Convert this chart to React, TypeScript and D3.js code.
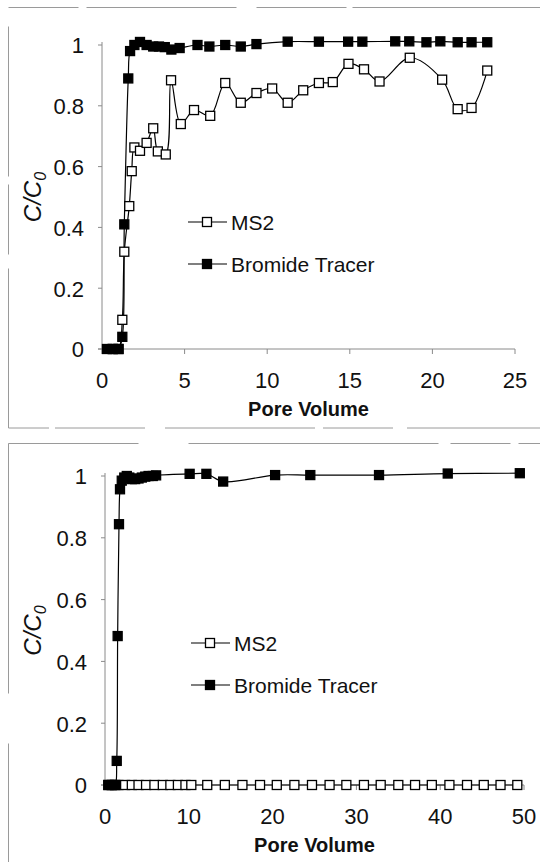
import React from 'react';
import * as d3 from 'd3';

// ---- top panel: pore volume vs C/C0 ----
const topBromidePV = [0.3, 0.65, 1.0, 1.23, 1.35, 1.59, 1.7, 1.96, 2.3, 2.7, 3.1, 3.45, 3.8, 4.2, 4.7, 5.78, 6.5, 7.46, 8.4, 9.35, 11.24, 13.13, 14.9, 15.76, 17.75, 18.6, 19.64, 20.48, 21.53, 22.37, 23.32];
const topBromideC = [0, 0, 0, 0.04, 0.41, 0.89, 0.98, 1.0, 1.01, 1.0, 0.995, 0.995, 0.993, 0.985, 0.99, 1.0, 0.995, 1.0, 0.995, 1.003, 1.011, 1.011, 1.011, 1.011, 1.012, 1.012, 1.009, 1.012, 1.009, 1.009, 1.009];
const topMs2PV = [0.65, 1.0, 1.23, 1.35, 1.65, 1.8, 1.96, 2.3, 2.7, 3.1, 3.38, 3.86, 4.18, 4.77, 5.57, 6.55, 7.46, 8.4, 9.35, 10.3, 11.24, 12.18, 13.13, 13.97, 14.92, 15.86, 16.8, 18.63, 20.59, 21.53, 22.37, 23.32];
const topMs2C = [0, 0, 0.096, 0.32, 0.47, 0.585, 0.663, 0.652, 0.678, 0.726, 0.65, 0.64, 0.884, 0.74, 0.786, 0.767, 0.875, 0.81, 0.842, 0.857, 0.81, 0.851, 0.875, 0.878, 0.938, 0.92, 0.88, 0.958, 0.886, 0.789, 0.793, 0.916];
const topXTicks = [0, 5, 10, 15, 20, 25];

// ---- bottom panel ----
const botBromidePV = [0.4, 0.8, 1.2, 1.4, 1.51, 1.67, 1.79, 2.0, 2.3, 2.6, 2.9, 3.2, 3.6, 4.0, 4.4, 4.8, 5.2, 5.7, 6.1, 10.1, 12.1, 14.1, 20.3, 24.5, 32.7, 40.9, 49.5];
const botBromideC = [0, 0, 0, 0.078, 0.482, 0.844, 0.957, 0.985, 0.995, 1.0, 0.995, 0.99, 0.99, 0.992, 0.995, 0.998, 1.0, 1.0, 1.002, 1.007, 1.007, 0.982, 1.003, 1.003, 1.003, 1.008, 1.009];
const botMs2PV = [0.4, 0.8, 1.2, 1.6, 2.4, 3.2, 4.0, 4.9, 5.9, 6.9, 7.8, 8.7, 9.6, 10.3, 12.2, 14.3, 16.4, 18.5, 20.5, 22.6, 24.7, 26.8, 28.8, 30.9, 32.9, 35.0, 37.0, 39.0, 41.1, 43.2, 45.2, 47.2, 49.2];
const botMs2C = botMs2PV.map(() => 0);
const botXTicks = [0, 10, 20, 30, 40, 50];

const yTicks = [0, 0.2, 0.4, 0.6, 0.8, 1];
const yTickLabels = ['0', '0.2', '0.4', '0.6', '0.8', '1'];

const FONT = 'Arial, "Liberation Sans", Helvetica, sans-serif';
const MARK = 9;

type PanelProps = {
  xMax: number;
  xTicks: number[];
  xRange: [number, number];
  yRange: [number, number];
  ms2: [number[], number[]];
  bromide: [number[], number[]];
  legend: { x: number; y: number };
};

const Marker = ({ x, y, filled }: { x: number; y: number; filled: boolean }) => (
  <rect x={x - MARK / 2} y={y - MARK / 2} width={MARK} height={MARK}
    fill={filled ? '#000' : '#fff'} stroke="#000" strokeWidth={1.3} />
);

function Panel({ xMax, xTicks, xRange, yRange, ms2, bromide, legend }: PanelProps) {
  const x = d3.scaleLinear().domain([0, xMax]).range(xRange);
  const y = d3.scaleLinear().domain([0, 1]).range(yRange);
  const line = d3.line<[number, number]>()
    .x(d => x(d[0]))
    .y(d => y(d[1]))
    .curve(d3.curveCatmullRom.alpha(0.5));

  const ms2Pts = ms2[0].map((v, i) => [v, ms2[1][i]] as [number, number]);
  const brPts = bromide[0].map((v, i) => [v, bromide[1][i]] as [number, number]);
  const y0 = y(0);
  const x0 = x(0);

  return (
    <g>
      {/* axes */}
      <line x1={x0} x2={x0} y1={y(1) - 3} y2={y0} stroke="#8a8a8a" strokeWidth={1} />
      <line x1={x0 - 4} x2={x(xMax)} y1={y0} y2={y0} stroke="#8a8a8a" strokeWidth={1} />
      {yTicks.map((t, i) => (
        <g key={'y' + t}>
          <line x1={x0 - 4} x2={x0} y1={y(t)} y2={y(t)} stroke="#8a8a8a" />
          <text x={x0 - 18} y={y(t)} dy="0.38em" textAnchor="end" fontSize={22} fontFamily={FONT} fill="#111">
            {yTickLabels[i]}
          </text>
        </g>
      ))}
      {xTicks.map(t => (
        <g key={'x' + t}>
          <line x1={x(t)} x2={x(t)} y1={y0} y2={y0 + 5} stroke="#8a8a8a" />
          <text x={x(t)} y={y0 + 39} textAnchor="middle" fontSize={22} fontFamily={FONT} fill="#111">{t}</text>
        </g>
      ))}
      <text x={(xRange[0] + xRange[1]) / 2} y={y0 + 67} textAnchor="middle" fontSize={20}
        fontWeight="bold" fontFamily={FONT} fill="#111">Pore Volume</text>
      <text transform={`translate(41,${(yRange[0] + yRange[1]) / 2}) rotate(-90)`} textAnchor="middle"
        fontSize={24} fontStyle="italic" fontFamily={FONT} fill="#111">
        C/C<tspan fontSize={16} dy="5">0</tspan>
      </text>

      {/* series */}
      <path d={line(brPts) || ''} fill="none" stroke="#000" strokeWidth={1.2} />
      <path d={line(ms2Pts) || ''} fill="none" stroke="#000" strokeWidth={1.2} />
      {ms2Pts.map((p, i) => <Marker key={'m' + i} x={x(p[0])} y={y(p[1])} filled={false} />)}
      {brPts.map((p, i) => <Marker key={'b' + i} x={x(p[0])} y={y(p[1])} filled={true} />)}

      {/* legend */}
      <line x1={legend.x} x2={legend.x + 39} y1={legend.y} y2={legend.y} stroke="#000" strokeWidth={1.2} />
      <Marker x={legend.x + 19} y={legend.y} filled={false} />
      <text x={legend.x + 43} y={legend.y} dy="0.36em" fontSize={21} fontFamily={FONT} fill="#111">MS2</text>
      <line x1={legend.x} x2={legend.x + 39} y1={legend.y + 42} y2={legend.y + 42} stroke="#000" strokeWidth={1.2} />
      <Marker x={legend.x + 19} y={legend.y + 42} filled={true} />
      <text x={legend.x + 43} y={legend.y + 42} dy="0.36em" fontSize={21} fontFamily={FONT} fill="#111">Bromide Tracer</text>
    </g>
  );
}

export default function App() {
  return (
    <div style={{ position: 'absolute', left: 0, top: 0 }}>
      <svg width={540} height={862} style={{ display: 'block', background: '#fff' }}>
        {/* scanned frame borders */}
        <rect x={8.5} y={7.5} width={540} height={420.5} fill="none" stroke="#9a9a9a" strokeWidth={1}
          strokeDasharray="70 8 150 20 90 6 200 14" />
        <rect x={8.5} y={443.5} width={540} height={440} fill="none" stroke="#9a9a9a" strokeWidth={1}
          strokeDasharray="130 50 250 12 60 8" />
        <Panel xMax={25} xTicks={topXTicks} xRange={[102, 515]} yRange={[349, 45]}
          ms2={[topMs2PV, topMs2C]} bromide={[topBromidePV, topBromideC]} legend={{ x: 188, y: 222 }} />
        <Panel xMax={50} xTicks={botXTicks} xRange={[105, 524]} yRange={[785, 476]}
          ms2={[botMs2PV, botMs2C]} bromide={[botBromidePV, botBromideC]} legend={{ x: 191, y: 643 }} />
      </svg>
    </div>
  );
}
